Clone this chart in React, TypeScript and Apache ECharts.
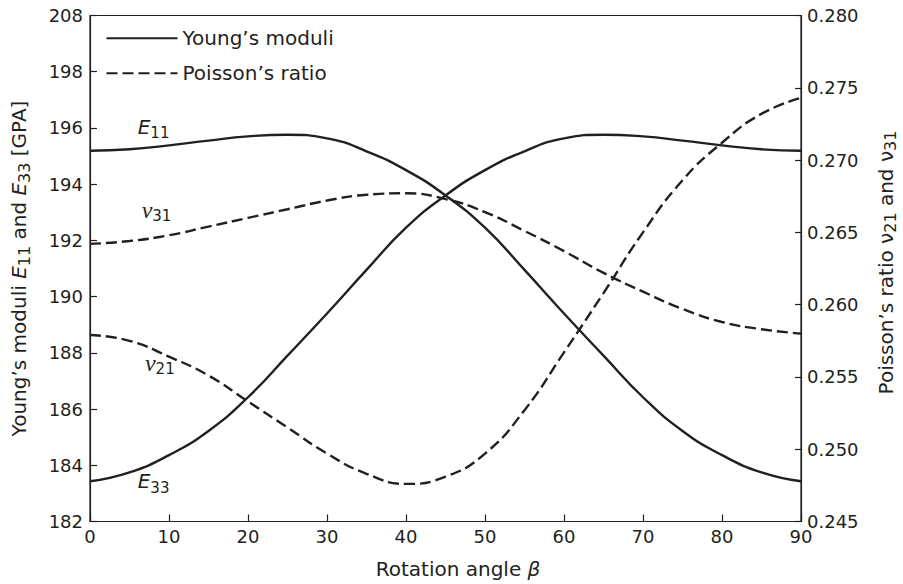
import React, { useEffect, useRef } from 'react';
import * as echarts from 'echarts';

// Rotation angle beta (degrees)
const beta = [0, 5, 10, 15, 20, 25, 30, 35, 40, 45, 50, 55, 60, 65, 70, 75, 80, 85, 90];
// Young's moduli [GPa]
const e11 = [195.19, 195.24, 195.38, 195.55, 195.7, 195.76, 195.63, 195.17, 194.5, 193.6, 192.45, 190.95, 189.4, 187.9, 186.42, 185.22, 184.36, 183.75, 183.43];
const e33 = [183.43, 183.75, 184.36, 185.22, 186.42, 187.9, 189.4, 190.95, 192.45, 193.6, 194.5, 195.17, 195.63, 195.76, 195.7, 195.55, 195.38, 195.24, 195.19];
// Poisson's ratios
const nu21 = [0.2579, 0.2575, 0.2564, 0.2551, 0.2533, 0.2515, 0.2497, 0.2483, 0.2476, 0.2481, 0.2497, 0.2527, 0.2567, 0.2608, 0.265, 0.2686, 0.2712, 0.2732, 0.2743];
const nu31 = [0.2642, 0.2644, 0.2648, 0.2654, 0.266, 0.2666, 0.2672, 0.2676, 0.2677, 0.2673, 0.2664, 0.2651, 0.2637, 0.2622, 0.2609, 0.2597, 0.2588, 0.2583, 0.258];

// Axis tick labels
const xTicks = { min: 0, max: 90, interval: 10 };
const leftTicks = { min: 182, max: 200, interval: 2 };
const leftTopLabel = '208';
const rightTicks = { min: 0.245, max: 0.28, interval: 0.005 };

const legendNames = ['Young’s moduli', 'Poisson’s ratio'];

// Curve annotations [beta, value]
const labelE11 = [6.04, 196.05];
const labelE33 = [6.04, 183.44];
const labelNu31 = [6.54, 0.26653];
const labelNu21 = [6.96, 0.25595];

const INK = '#231f20';
const FONT = 'DejaVu Sans';

const pairs = (ys: number[]) => beta.map((b, i) => [b, ys[i]]);

const richTitle = {
  n: { fontFamily: FONT, fontSize: 20, color: INK },
  i: { fontFamily: FONT, fontSize: 20, fontStyle: 'italic', color: INK },
  s: { fontFamily: FONT, fontSize: 16, color: INK, padding: [11, 0, 0, 0] },
};

const richRight = {
  n: { fontFamily: FONT, fontSize: 20, color: INK },
  s: { fontFamily: FONT, fontSize: 16, color: INK, padding: [9, 0, 0, 0] },
};

const richLabel = {
  i: { fontFamily: FONT, fontSize: 20, fontStyle: 'italic', color: INK },
  s: { fontFamily: FONT, fontSize: 15, color: INK, padding: [13, 0, 0, 0] },
  g: { fontFamily: 'Liberation Serif', fontSize: 24, fontStyle: 'italic', color: INK },
  gs: { fontFamily: FONT, fontSize: 15, color: INK, padding: [11, 0, 0, 0] },
};

const annot = (coord: number[], text: string) => ({
  coord,
  symbol: 'circle',
  symbolSize: 1,
  itemStyle: { color: 'rgba(0,0,0,0)' },
  label: {
    show: true,
    position: 'inside',
    align: 'left',
    verticalAlign: 'middle',
    formatter: text,
    rich: richLabel,
  },
});

export default function App() {
  const ref = useRef<HTMLDivElement>(null);
  useEffect(() => {
    const chart = echarts.init(ref.current!, null, { renderer: 'svg' });
    const solid = { color: INK, width: 2.4, type: 'solid' as const };
    const dashed = { color: INK, width: 2.4, type: [11, 5] as any };
    chart.setOption({
      animation: false,
      backgroundColor: '#ffffff',
      textStyle: { fontFamily: FONT, color: INK },
      grid: {
        left: 90,
        right: 102,
        top: 15.5,
        bottom: 62.5,
        show: true,
        borderColor: INK,
        borderWidth: 1.2,
        containLabel: false,
        outerBoundsMode: 'none',
      },
      legend: {
        orient: 'vertical',
        left: 105.5,
        top: 28.3,
        padding: 0,
        itemWidth: 71,
        itemHeight: 20,
        itemGap: 15,
        itemStyle: { opacity: 0, color: 'rgba(0,0,0,0)', borderWidth: 0 },
        data: legendNames.map((n) => ({ name: n })),
        textStyle: { fontFamily: FONT, fontSize: 20, color: INK, lineHeight: 20 },
        selectedMode: false,
      },
      xAxis: {
        type: 'value',
        min: xTicks.min,
        max: xTicks.max,
        interval: xTicks.interval,
        name: '{n|Rotation angle }{b|β}',
        nameLocation: 'middle',
        nameGap: 37,
        nameTextStyle: {
          fontFamily: FONT,
          fontSize: 20,
          color: INK,
          padding: [0, 0, 0, 25],
          rich: {
            n: { fontFamily: FONT, fontSize: 20, color: INK },
            b: { fontFamily: FONT, fontSize: 20, fontStyle: 'italic', color: INK },
          },
        },
        axisLine: { show: true, lineStyle: { color: INK, width: 1.2 } },
        axisTick: { show: true, inside: true, length: 7, lineStyle: { color: INK, width: 1.2 } },
        axisLabel: { fontFamily: FONT, fontSize: 18, color: INK, margin: 6 },
        splitLine: { show: false },
      },
      yAxis: [
        {
          type: 'value',
          position: 'left',
          min: leftTicks.min,
          max: leftTicks.max,
          interval: leftTicks.interval,
          name: '{n|Young’s moduli }{i|E}{s|11}{n| and }{i|E}{s|33}{n| [GPA]}',
          nameLocation: 'middle',
          nameGap: 58,
          nameTextStyle: { fontFamily: FONT, fontSize: 20, color: INK, rich: richTitle },
          axisLine: { show: true, lineStyle: { color: INK, width: 1.2 } },
          axisTick: { show: true, inside: true, length: 7, lineStyle: { color: INK, width: 1.2 } },
          axisLabel: {
            fontFamily: FONT,
            fontSize: 18,
            color: INK,
            margin: 7,
            formatter: (v: number) => (v === leftTicks.max ? leftTopLabel : String(v)),
          },
          splitLine: { show: false },
        },
        {
          type: 'value',
          position: 'right',
          min: rightTicks.min,
          max: rightTicks.max,
          interval: rightTicks.interval,
          name: '{n|Poisson’s ratio ν}{s|21}{n| and ν}{s|31}',
          nameLocation: 'middle',
          nameGap: 72,
          nameTextStyle: {
            fontFamily: FONT,
            fontSize: 20,
            color: INK,
            padding: [0, 0, 0, 12],
            rich: richRight,
          },
          axisLine: { show: true, lineStyle: { color: INK, width: 1.2 } },
          axisTick: { show: true, inside: true, length: 6, lineStyle: { color: INK, width: 1.2 } },
          axisLabel: {
            fontFamily: FONT,
            fontSize: 18,
            color: INK,
            margin: 6,
            formatter: (v: number) => v.toFixed(3),
          },
          splitLine: { show: false },
        },
      ],
      series: [
        {
          name: legendNames[0],
          type: 'line',
          yAxisIndex: 0,
          data: pairs(e11),
          smooth: true,
          symbol: 'none',
          lineStyle: solid,
          itemStyle: { color: INK },
          markPoint: { silent: true, data: [annot(labelE11, '{i|E}{s|11}')] },
        },
        {
          name: legendNames[0],
          type: 'line',
          yAxisIndex: 0,
          data: pairs(e33),
          smooth: true,
          symbol: 'none',
          lineStyle: solid,
          itemStyle: { color: INK },
          markPoint: { silent: true, data: [annot(labelE33, '{i|E}{s|33}')] },
        },
        {
          name: legendNames[1],
          type: 'line',
          yAxisIndex: 1,
          data: pairs(nu21),
          smooth: true,
          symbol: 'none',
          lineStyle: dashed,
          itemStyle: { color: INK },
          markPoint: { silent: true, data: [annot(labelNu21, '{g|ν}{gs|21}')] },
        },
        {
          name: legendNames[1],
          type: 'line',
          yAxisIndex: 1,
          data: pairs(nu31),
          smooth: true,
          symbol: 'none',
          lineStyle: dashed,
          itemStyle: { color: INK },
          markPoint: { silent: true, data: [annot(labelNu31, '{g|ν}{gs|31}')] },
        },
      ],
    });
    return () => chart.dispose();
  }, []);
  return (
    <div
      ref={ref}
      style={{ position: 'fixed', left: 0, top: 0, width: 903, height: 584, background: '#fff' }}
    />
  );
}
